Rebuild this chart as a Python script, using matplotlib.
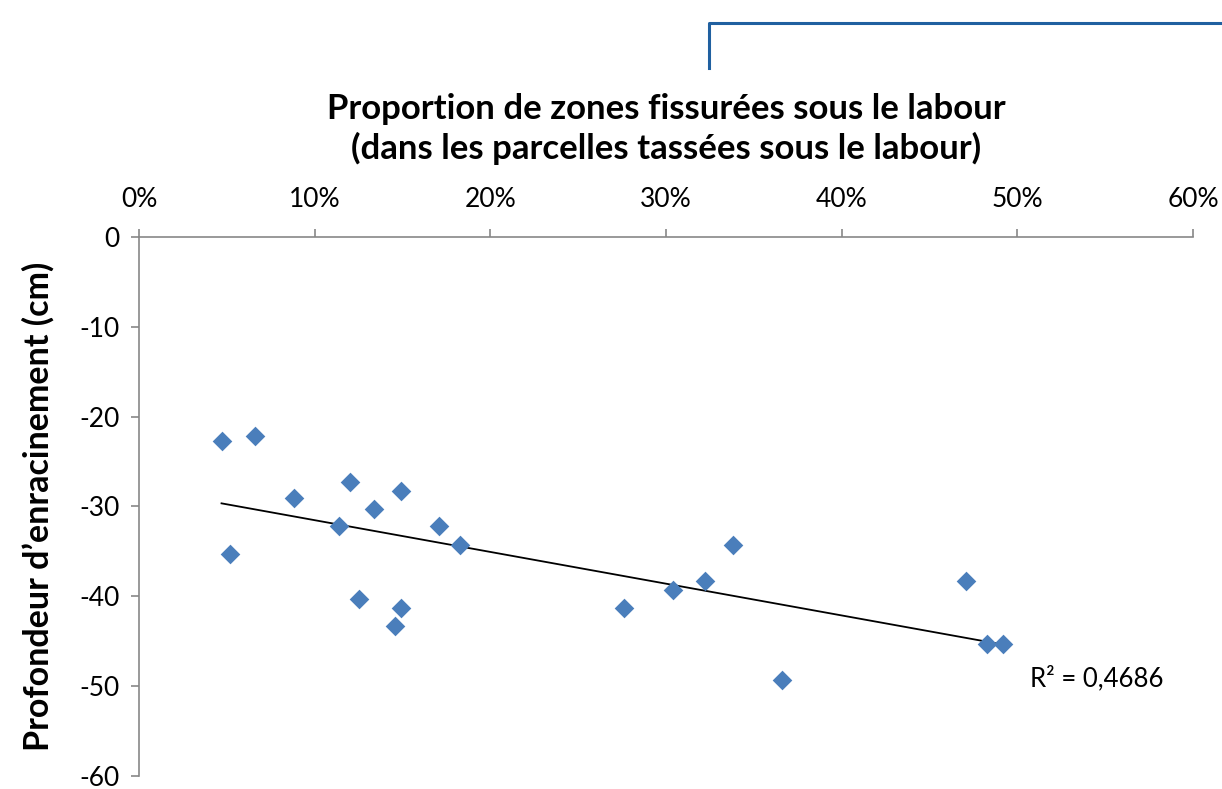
import numpy as np
import matplotlib.pyplot as plt
from matplotlib.lines import Line2D
from matplotlib.ticker import PercentFormatter

plt.rcParams['font.family'] = ['Lato', 'DejaVu Sans']
plt.rcParams['axes.unicode_minus'] = False

# proportion of cracked zones (fraction) and rooting depth (cm)
prop = [0.047, 0.066, 0.052, 0.088, 0.114, 0.120, 0.134, 0.125, 0.149, 0.171, 0.183,
        0.146, 0.149, 0.276, 0.304, 0.322, 0.338, 0.366, 0.471, 0.483, 0.492]
depth = [-22.7, -22.2, -35.3, -29.1, -32.2, -27.3, -30.3, -40.3, -28.3, -32.2, -34.3,
         -43.3, -41.3, -41.3, -39.3, -38.3, -34.3, -49.3, -38.3, -45.3, -45.3]
r2_label = 'R² = 0,4686'

fig = plt.figure(figsize=(12.22, 7.89), dpi=100)
ax = fig.add_axes([0.1137, 0.0165, 0.8626, 0.6831])

ax.scatter(prop, depth, marker='D', s=100, color='#4a7ebb', zorder=3, linewidths=0)

# linear trend line over the data range
a, b = np.polyfit(prop, depth, 1)
xs = np.array([min(prop), max(prop)])
ax.plot(xs, a * xs + b, color='black', lw=1.3, zorder=2)

ax.text(0.507, -49.2, r2_label, fontsize=18.5, va='center', ha='left')

ax.set_xlim(0, 0.6)
ax.set_ylim(-60, 0)
ax.set_xticks(np.arange(0, 0.61, 0.1))
ax.set_yticks(np.arange(-60, 1, 10))
ax.xaxis.set_major_formatter(PercentFormatter(1.0, decimals=0))
ax.xaxis.tick_top()
ax.xaxis.set_label_position('top')
for side in ['bottom', 'right']:
    ax.spines[side].set_visible(False)
for side in ['top', 'left']:
    ax.spines[side].set_color('#878787')
    ax.spines[side].set_linewidth(1.2)
ax.tick_params(axis='both', direction='out', length=6, width=1.2, color='#878787',
               labelsize=19)
ax.tick_params(axis='x', pad=12)
ax.tick_params(axis='y', pad=8)

ax.set_xlabel('Proportion de zones fissurées sous le labour\n(dans les parcelles tassées sous le labour)',
              fontsize=25, fontweight='bold', labelpad=20, linespacing=1.25)
ax.set_ylabel('Profondeur d\u2019enracinement (cm)', fontsize=24.5, fontweight='bold', labelpad=18)

# connector line at the top of the picture
fig.add_artist(Line2D([709 / 1222, 709 / 1222, 1.0], [1 - 68 / 789, 1 - 23 / 789, 1 - 23 / 789],
                      color='#2060a0', lw=2.2, transform=fig.transFigure))

fig.savefig('out.png', dpi=100)
